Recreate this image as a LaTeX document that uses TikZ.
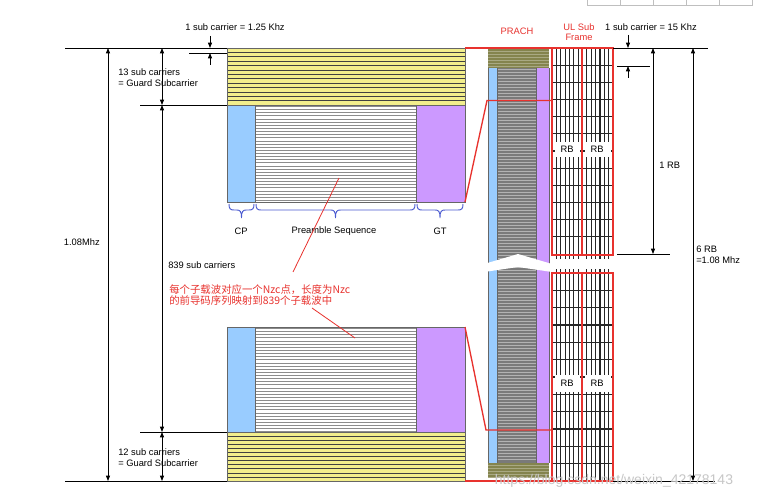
\documentclass[tikz,border=0pt]{standalone}
\usepackage{fontspec}
\setmainfont{Liberation Sans}
\newfontfamily\cjkfont{Noto Sans CJK SC}
\usetikzlibrary{arrows.meta}
\definecolor{yel}{HTML}{F2EE8C}
\definecolor{cpblue}{HTML}{99CCFF}
\definecolor{gtpurple}{HTML}{CC99FF}
\definecolor{olivec}{HTML}{84844E}
\definecolor{prgray}{HTML}{7A7A7A}
\definecolor{redl}{HTML}{E8322E}
\definecolor{bracec}{HTML}{4A5AD0}
\newcommand\mybrace[2]{%
  \draw[bracest] (#1,204) .. controls (#1,209) and ({#1+1.5},210) .. ({#1+5},210)
    -- ({(#1+#2)/2-5},210) .. controls ({(#1+#2)/2-1.5},210) and ({(#1+#2)/2},211) .. ({(#1+#2)/2},218)
    .. controls ({(#1+#2)/2},211) and ({(#1+#2)/2+1.5},210) .. ({(#1+#2)/2+5},210)
    -- ({#2-5},210) .. controls ({#2-1.5},210) and (#2,209) .. (#2,204);}
\begin{document}
\begin{tikzpicture}[x=0.75pt,y=-0.75pt,
  lbl/.style={font=\fontsize{7}{8}\selectfont,inner sep=0pt},
  redlbl/.style={font=\fontsize{7.8}{8.5}\selectfont,text=redl,inner sep=0pt},
  dimline/.style={draw=black,line width=0.6pt},
  tipone/.style={dimline,-{Triangle[length=4pt,width=3pt]}},
  tipboth/.style={dimline,{Triangle[length=4pt,width=3pt]}-{Triangle[length=4pt,width=3pt]}},
  hatchy/.style={draw=black!75,line width=0.5pt},
  seqline/.style={draw=black!45,line width=0.6pt},
  outl/.style={draw=black!60,line width=0.4pt},
  redline/.style={draw=redl,line width=1pt},
  gridl/.style={draw=black!85,line width=0.85pt},
  bracest/.style={draw=bracec,line width=0.7pt}
]
\useasboundingbox (0,0) rectangle (760,499);
\fill[white] (0,0) rectangle (760,499);

% screenshot table lines at top right
\draw[black!25,line width=0.5pt] (587,0) -- (587,5) -- (752,5) -- (752,0);
\foreach \xx in {620,653,686,719} \draw[black!25,line width=0.5pt] (\xx,0) -- (\xx,5);

% ---------- left blocks ----------
% top guard (yellow)
\fill[yel] (227,48) rectangle (465,105);
\foreach \i in {1,...,12} \draw[hatchy] (227,{48+\i*57/13}) -- (465,{48+\i*57/13});
\draw[outl] (227,48) rectangle (465,105);
% upper preamble block
\fill[cpblue] (227,105) rectangle (255,202);
\fill[gtpurple] (416,105) rectangle (465,202);
\foreach \k in {0,...,30} \draw[seqline] (255,{106.5+\k*3.13}) -- (416,{106.5+\k*3.13});
\draw[outl] (227,105) rectangle (465,202);
\draw[outl] (255,105) -- (255,202) (416,105) -- (416,202);
% lower preamble block
\fill[cpblue] (227,327) rectangle (255,432);
\fill[gtpurple] (416,327) rectangle (465,432);
\foreach \k in {0,...,33} \draw[seqline] (255,{328.5+\k*3.13}) -- (416,{328.5+\k*3.13});
\draw[outl] (227,327) rectangle (465,432);
\draw[outl] (255,327) -- (255,432) (416,327) -- (416,432);
% bottom guard (yellow)
\fill[yel] (227,432) rectangle (465,481);
\foreach \i in {1,...,11} \draw[hatchy] (227,{432+\i*49/12}) -- (465,{432+\i*49/12});
\draw[outl] (227,432) rectangle (465,481);

% braces
\mybrace{229}{254}
\mybrace{256}{415}
\mybrace{417}{463}
\node[lbl] (cp) at (241,231) {CP};
\node[lbl] (ps) at (334,231) {Preamble Sequence};
\node[lbl] (gt) at (440,231) {GT};

% ---------- PRACH column ----------
\fill[olivec] (488,49) rectangle (549,68);
\foreach \k in {0,...,5} \draw[draw=olivec!70!white,line width=0.4pt] (488,{51+\k*3}) -- (549,{51+\k*3});
\fill[cpblue] (488,68) rectangle (497,463);
\fill[prgray] (497,68) rectangle (536,463);
\foreach \k in {0,...,130} \draw[draw=black!30,line width=0.35pt] (497,{69.5+\k*3}) -- (536,{69.5+\k*3});
\fill[gtpurple] (536,68) rectangle (549,463);
\draw[outl] (488,68) -- (488,463) (497,68) -- (497,463) (536,68) -- (536,463) (549,68) -- (549,463);
\fill[olivec] (488,463) rectangle (549,478);
\foreach \k in {0,...,4} \draw[draw=olivec!70!white,line width=0.4pt] (488,{465+\k*3}) -- (549,{465+\k*3});

% ---------- UL sub frame grid ----------
% upper
\foreach \j in {1,...,6,8,9,10,11,12,13} \draw[gridl] ({552+\j*61/14},48) -- ({552+\j*61/14},259);
\foreach \k in {1,...,11} \draw[gridl] (552,{48+\k*206/12}) -- (613,{48+\k*206/12});
\fill[white] (555,142) rectangle (580,157);
\fill[white] (585,142) rectangle (611,157);
\node[lbl] (rb1) at (567,149.5) {RB};
\node[lbl] (rb2) at (597,149.5) {RB};
% lower
\foreach \j in {1,...,6,8,9,10,11,12,13} \draw[gridl] ({552+\j*61/14},269) -- ({552+\j*61/14},481);
\foreach \k in {1,...,11} \draw[gridl] (552,{273+\k*208/12}) -- (613,{273+\k*208/12});
\fill[white] (555,375) rectangle (580,392);
\fill[white] (585,375) rectangle (611,392);
\node[lbl] (rb3) at (567,383.5) {RB};
\node[lbl] (rb4) at (597,383.5) {RB};

% gap (break) across PRACH
\fill[white] (484,264) -- (518,254) -- (552,264) -- (552,272) -- (518,267) -- (484,272) -- cycle;
\fill[white] (550,259) rectangle (616,269);

% red frames
\draw[redl,line width=1.4pt] (552,48) rectangle (613,255);
\draw[redl,line width=0.8pt] (582,48) -- (582,255);
\draw[redl,line width=1.4pt] (552,273) rectangle (613,481);
\draw[redl,line width=0.8pt] (582,273) -- (582,481);

% red connectors
\draw[redline] (465,48) -- (552,48);
\draw[redline] (465,202) -- (487,100.5) -- (552,100.5);
\draw[redline] (465,327) -- (486,430) -- (552,430);
\draw[redline] (465,481) -- (552,481);

% red annotation
\draw[redl,line width=0.6pt] (293,272) -- (339,178);
\draw[redl,line width=0.6pt] (312,308) -- (355,338);
\node[redlbl,anchor=west] (cn1) at (169,290) {\cjkfont 每个子载波对应一个Nzc点，长度为Nzc};
\node[redlbl,anchor=west] (cn2) at (169,301) {\cjkfont 的前导码序列映射到839个子载波中};

% ---------- left dimensions ----------
\draw[dimline] (65,48) -- (227,48);
\draw[dimline] (189,53) -- (227,53);
\draw[dimline] (140,105) -- (227,105);
\draw[dimline] (140,432) -- (227,432);
\draw[dimline] (65,481) -- (227,481);
\draw[tipone] (210,36) -- (210,48);
\draw[tipone] (210,65) -- (210,53);
\draw[tipboth] (108,48) -- (108,481);
\draw[tipboth] (162,48) -- (162,105);
\draw[tipboth] (162,105) -- (162,432);
\draw[tipboth] (162,432) -- (162,481);
\node[lbl] (sc1) at (235,27) {1 sub carrier = 1.25 Khz};
\node[lbl,anchor=west,align=left] (g13) at (118,77.5) {13 sub carriers\\= Guard Subcarrier};
\node[lbl,anchor=west,align=left] (g12) at (118,457.5) {12 sub carriers\\= Guard Subcarrier};
\node[lbl,anchor=west] (s839) at (168,265) {839 sub carriers};
\node[lbl,anchor=east] (mhz) at (100,242) {1.08Mhz};

% ---------- right dimensions ----------
\draw[dimline] (613,48) -- (708,48);
\draw[dimline] (617,66) -- (650,66);
\draw[dimline] (617,254) -- (670,254);
\draw[dimline] (613,481) -- (715,481);
\draw[tipone] (628,35) -- (628,48);
\draw[tipone] (628,78) -- (628,66);
\draw[tipboth] (653,48) -- (653,254);
\draw[tipboth] (693,48) -- (693,481);
\node[lbl] (sc15) at (651,27) {1 sub carrier = 15 Khz};
\node[lbl,anchor=west] (rb1l) at (659,165) {1 RB};
\node[lbl,anchor=west,align=left] (rb6) at (696,255) {6 RB\\=1.08 Mhz};

% titles
\node[lbl,text=redl] (prach) at (517,31) {PRACH};
\node[lbl,text=redl,align=center] (ulsf) at (579,32) {UL Sub\\Frame};

% watermark
\node[font=\fontsize{10.5}{12}\selectfont,text=black!22,inner sep=0pt] (wm) at (614,481) {https://blog.csdn.net/weixin\_42178143};
\end{tikzpicture}
\end{document}
